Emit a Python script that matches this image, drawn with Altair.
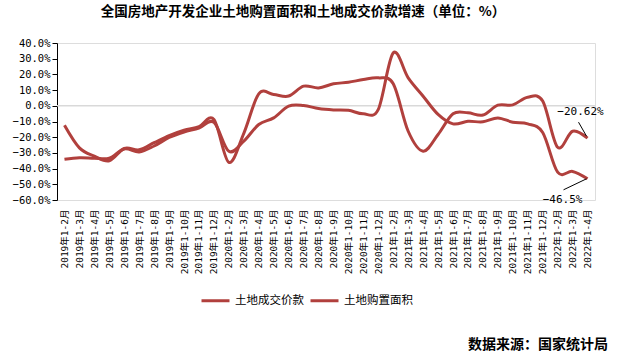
import altair as alt
import pandas as pd

months = [
    "2019年1-2月", "2019年1-3月", "2019年1-4月", "2019年1-5月", "2019年1-6月", "2019年1-7月",
    "2019年1-8月", "2019年1-9月", "2019年1-10月", "2019年1-11月", "2019年1-12月",
    "2020年1-2月", "2020年1-3月", "2020年1-4月", "2020年1-5月", "2020年1-6月", "2020年1-7月",
    "2020年1-8月", "2020年1-9月", "2020年1-10月", "2020年1-11月", "2020年1-12月",
    "2021年1-2月", "2021年1-3月", "2021年1-4月", "2021年1-5月", "2021年1-6月", "2021年1-7月",
    "2021年1-8月", "2021年1-9月", "2021年1-10月", "2021年1-11月", "2021年1-12月",
    "2022年1-2月", "2022年1-3月", "2022年1-4月",
]

# 土地成交价款 growth (%)
land_value = [
    -12.4, -26.8, -32.1, -35.0, -27.2, -28.0, -23.5, -19.0, -15.5, -13.3, -8.7,
    -36.0, -17.5, 7.6, 7.2, 6.2, 12.5, 11.4, 14.0, 15.0, 16.7, 17.8,
    14.0, -16.2, -28.9, -18.3, -5.1, -4.5, -5.9, 0.4, 0.6, 5.5, 3.0,
    -26.4, -16.2, -20.62,
]

# 土地购置面积 growth (%)
land_area = [
    -34.1, -33.1, -33.4, -33.4, -27.5, -29.4, -25.6, -20.2, -16.7, -14.2, -10.5,
    -29.0, -22.5, -11.9, -7.7, -0.2, 0.2, -1.7, -2.6, -2.9, -5.1, -2.3,
    33.7, 17.8, 6.1, -5.5, -11.5, -9.9, -10.2, -7.7, -10.5, -11.5, -17.0,
    -42.3, -41.8, -46.5,
]

y_ticks = [-60, -50, -40, -30, -20, -10, 0, 10, 20, 30, 40]

SER_VALUE = "土地成交价款"
SER_AREA = "土地购置面积"
series_order = [SER_VALUE, SER_AREA]
series_colors = ["#B1403D", "#B1403D"]

title_text = "全国房地产开发企业土地购置面积和土地成交价款增速（单位：%）"
source_text = "数据来源：国家统计局"

rows = []
for m, v in zip(months, land_value):
    rows.append({"month": m, "series": SER_VALUE, "value": v})
for m, v in zip(months, land_area):
    rows.append({"month": m, "series": SER_AREA, "value": v})
df = pd.DataFrame(rows)

CJK = "Noto Sans CJK SC"
MONO = "DejaVu Sans Mono, Noto Sans CJK SC"

x_enc = alt.X(
    "month:N",
    sort=months,
    scale=alt.Scale(type="point", padding=0.5),
    axis=alt.Axis(
        title=None, labelAngle=270, labelFont=MONO, labelFontSize=9.5,
        labelColor="black", domain=False, ticks=False, labelPadding=9,
        labelOverlap=False,
    ),
)
y_axis = alt.Axis(
    title=None, values=y_ticks,
    labelExpr="format(datum.value, '.1f') + '%'",
    grid=False, domainColor="black", tickColor="black", tickSize=5,
    labelFont=MONO, labelFontSize=10.5, labelColor="black", labelPadding=2,
    labelOverlap=False, labelBound=False,
)
y_scale = alt.Scale(domain=[-60, 40], nice=False)
y_enc = alt.Y("value:Q", scale=y_scale, axis=y_axis)

base = alt.Chart(df)

zero = alt.Chart(pd.DataFrame({"value": [0]})).mark_rule(
    color="#D9D9D9", strokeWidth=1.5
).encode(y=y_enc)

lines = base.mark_line(strokeWidth=3, interpolate="cardinal").encode(
    x=x_enc,
    y=y_enc,
    color=alt.Color(
        "series:N",
        sort=series_order,
        scale=alt.Scale(domain=series_order, range=series_colors),
        legend=alt.Legend(
            title=None, orient="none", legendX=143, legendY=242, direction="horizontal",
            symbolType="stroke", symbolSize=784, symbolStrokeWidth=3,
            labelFont=CJK, labelFontSize=11.5, labelColor="black",
            labelOffset=4, columnPadding=0,
        ),
    ),
)

last = months[-1]
ann_val = base.transform_filter(
    (alt.datum.month == last) & (alt.datum.series == SER_VALUE)
)
ann_area = base.transform_filter(
    (alt.datum.month == last) & (alt.datum.series == SER_AREA)
)

lbl_val = ann_val.mark_text(
    font=MONO, fontSize=11, color="black", dx=-7, dy=-26, align="center", baseline="middle"
).transform_calculate(lbl="format(datum.value, '.2f') + '%'").encode(
    x=alt.X("month:N", sort=months), y=y_enc, text="lbl:N"
)

lbl_area = ann_area.mark_text(
    font=MONO, fontSize=11, color="black", dx=-25, dy=21, align="center", baseline="middle"
).transform_calculate(lbl="format(datum.value, '.1f') + '%'").encode(
    x=alt.X("month:N", sort=months), y=y_enc, text="lbl:N"
)

lead_val = ann_val.mark_rule(
    color="black", strokeWidth=1, xOffset=-9, yOffset=-16, x2Offset=-1, y2Offset=-2
).encode(
    x=alt.X("month:N", sort=months), y=y_enc, x2="month:N", y2="value:Q"
)
lead_area = ann_area.mark_rule(
    color="black", strokeWidth=1, xOffset=-24, yOffset=11, x2Offset=-1, y2Offset=0
).encode(
    x=alt.X("month:N", sort=months), y=y_enc, x2="month:N", y2="value:Q"
)

source = alt.Chart(pd.DataFrame({"t": [source_text]})).mark_text(
    align="right", baseline="middle", font=CJK, fontSize=14, fontWeight="bold", color="black"
).encode(text="t:N", x=alt.value(551), y=alt.value(302))

chart = alt.layer(zero, lines, lead_val, lead_area, lbl_val, lbl_area, source).properties(
    width=538,
    height=157,
    title=alt.Title(
        title_text, font=CJK, fontSize=13.5, fontWeight="bold", color="black",
        anchor="middle", frame="group", dx=-23, offset=20,
    ),
    autosize=alt.AutoSizeParams(type="none"),
    padding={"left": 57, "top": 43, "right": 24, "bottom": 157},
).configure_view(stroke=None).configure(background="white")

chart.save("out.html", embed_options={"renderer": "svg", "actions": False})
